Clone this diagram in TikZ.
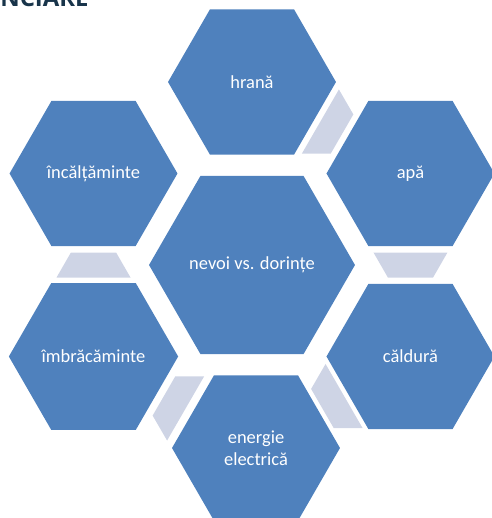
\documentclass[tikz,border=0pt]{standalone}
\usepackage{fontspec}
\setmainfont{Carlito}
\newfontfamily\titlefont{Open Sans}
\usetikzlibrary{shapes.geometric,calc}

\definecolor{hexblue}{RGB}{79,129,189}
\definecolor{linkgrey}{RGB}{206,212,229}
\definecolor{titlenavy}{RGB}{24,52,74}

\begin{document}
\begin{tikzpicture}[x=0.02cm,y=0.02cm,
hex/.style={regular polygon,regular polygon sides=6,fill=hexblue,text=white,
  inner sep=0pt,outer sep=0pt,align=center,font=\fontsize{10.5}{12.4}\selectfont},
small hex/.style={hex,minimum size=3.36cm},
big hex/.style={hex,minimum size=4.12cm}]
\useasboundingbox (-252,-253) rectangle (239,265);
\node[anchor=base west,inner sep=0pt,text=titlenavy,
  font=\titlefont\bfseries\fontsize{13.6}{16}\selectfont] (title) at (-252,258) {NCIARE};

\node[big hex] (nevoi) at (0,0) {nevoi vs. dorințe};
\node[small hex] (hrana) at (90:183) {hrană};
\node[small hex] (apa) at (30:183) {apă};
\node[small hex] (caldura) at (-30:183) {căldură};
\node[small hex] (energie) at (4,-183) {energie\\electrică};
\node[small hex] (imbracaminte) at (210:183) {îmbrăcăminte};
\node[small hex] (incaltaminte) at (150:183) {încălțăminte};

% legaturi intre hexagoane
\foreach \from/\to/\ang in {hrana/apa/60,apa/caldura/0,caldura/energie/-60,
  energie/imbracaminte/-120,imbracaminte/incaltaminte/180}
  \fill[linkgrey,shift={($(\from)!0.5!(\to)$)},rotate=\ang]
    (-37,12.5) -- (37,12.5) -- (22.6,-12.5) -- (-22.6,-12.5) -- cycle;
\end{tikzpicture}
\end{document}
